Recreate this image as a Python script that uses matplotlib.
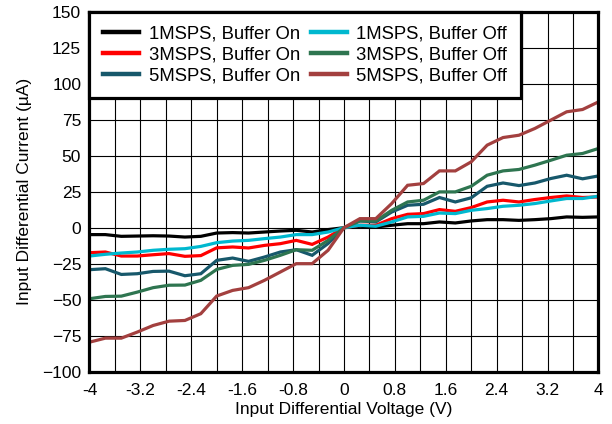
import numpy as np
import matplotlib
matplotlib.use("Agg")
import matplotlib.pyplot as plt
from matplotlib.ticker import MultipleLocator

plt.rcParams["font.family"] = ["Liberation Sans", "DejaVu Sans"]

# Input differential voltage sweep (V), 0.25 V steps
vin = np.arange(-4.0, 4.0001, 0.25)

# Input differential current (uA) per sample rate / buffer setting
on_1msps = [-4.8, -4.8, -6.0, -5.8, -5.6, -5.8, -6.5, -6.0, -3.7, -3.4, -3.7, -3.0, -2.3, -1.8, -3.0, -1.3, 0.0,
            1.0, 0.5, 1.7, 2.8, 2.8, 4.0, 3.3, 4.7, 5.6, 5.6, 5.1, 5.6, 6.3, 7.5, 7.2, 7.5]
on_3msps = [-17.4, -16.9, -19.7, -19.7, -18.8, -18.0, -19.9, -19.4, -14.0, -13.4, -14.1, -12.3, -11.1, -8.8, -11.6, -6.5, 0.0,
            1.7, 1.7, 6.3, 9.3, 9.8, 12.6, 11.4, 14.0, 17.9, 19.1, 17.9, 19.6, 21.0, 22.1, 21.0, 21.4]
on_5msps = [-29.2, -28.5, -32.5, -32.0, -30.4, -30.2, -33.4, -32.0, -22.7, -21.1, -23.4, -20.4, -16.9, -15.3, -19.2, -11.0, 0.0,
            4.7, 4.0, 10.9, 15.6, 16.3, 21.0, 17.9, 20.8, 28.8, 31.1, 29.3, 31.1, 34.2, 36.5, 34.0, 36.0]
off_1msps = [-19.7, -18.5, -17.6, -16.9, -15.7, -15.0, -14.6, -13.0, -10.4, -9.3, -8.8, -7.6, -6.5, -4.8, -4.8, -3.0, 0.0,
             1.7, 1.0, 4.0, 7.5, 7.9, 10.2, 9.8, 12.1, 13.3, 14.9, 15.6, 16.8, 18.6, 20.3, 20.3, 21.9]
off_3msps = [-49.4, -47.8, -47.6, -44.8, -41.7, -40.0, -39.9, -36.6, -29.0, -26.2, -25.5, -22.7, -19.2, -15.3, -15.7, -8.8, 0.0,
             4.7, 4.7, 12.1, 17.9, 19.1, 24.9, 24.9, 28.8, 36.5, 39.5, 40.5, 43.5, 46.9, 50.4, 51.6, 55.1]
off_5msps = [-79.6, -76.8, -76.8, -72.6, -68.0, -65.0, -64.5, -59.8, -47.5, -43.6, -41.7, -36.6, -30.8, -25.0, -25.0, -15.7, 0.0,
             6.3, 6.3, 16.8, 29.5, 30.7, 39.5, 39.5, 45.8, 57.4, 62.7, 64.3, 69.0, 74.8, 80.6, 82.2, 87.5]

series = [
    ("1MSPS, Buffer On", on_1msps, "#000000"),
    ("3MSPS, Buffer On", on_3msps, "#ff0000"),
    ("5MSPS, Buffer On", on_5msps, "#17586b"),
    ("1MSPS, Buffer Off", off_1msps, "#00b8cf"),
    ("3MSPS, Buffer Off", off_3msps, "#2e7550"),
    ("5MSPS, Buffer Off", off_5msps, "#a3403f"),
]

fig = plt.figure(figsize=(6.12, 4.24), dpi=100)
ax = fig.add_axes([0.1462, 0.1238, 0.8317, 0.8479])

for label, vals, color in series:
    ax.plot(vin, vals, color=color, lw=2.3, label=label, solid_joinstyle="miter")

ax.set_xlim(-4, 4)
ax.set_ylim(-100, 150)
ax.xaxis.set_major_locator(MultipleLocator(0.8))
ax.xaxis.set_minor_locator(MultipleLocator(0.4))
ax.yaxis.set_major_locator(MultipleLocator(25))
ax.xaxis.set_major_formatter(plt.FuncFormatter(lambda v, p: f"{v:g}" if abs(v) > 1e-9 else "0"))
ax.grid(True, which="both", axis="x", color="black", lw=0.8)
ax.grid(True, which="major", axis="y", color="black", lw=0.8)
ax.set_axisbelow(True)
ax.tick_params(which="both", length=0, labelsize=12.5)
ax.tick_params(axis="x", pad=8)
ax.tick_params(axis="y", pad=6)
for s in ax.spines.values():
    s.set_linewidth(2.3)

ax.set_xlabel("Input Differential Voltage (V)", fontsize=12.5, labelpad=3)
ax.set_ylabel("Input Differential Current (µA)", fontsize=12.5, labelpad=7)

leg = ax.legend(loc="upper left", ncol=2, fontsize=13.3, frameon=True, fancybox=False,
                borderaxespad=0, handlelength=1.95, handletextpad=0.5, columnspacing=0.6,
                labelspacing=0.2, borderpad=0.75)
leg.get_frame().set_edgecolor("black")
leg.get_frame().set_linewidth(2.3)
leg.get_frame().set_alpha(1)
for h in leg.get_lines():
    h.set_linewidth(3.2)

fig.savefig("out.png", dpi=100)
